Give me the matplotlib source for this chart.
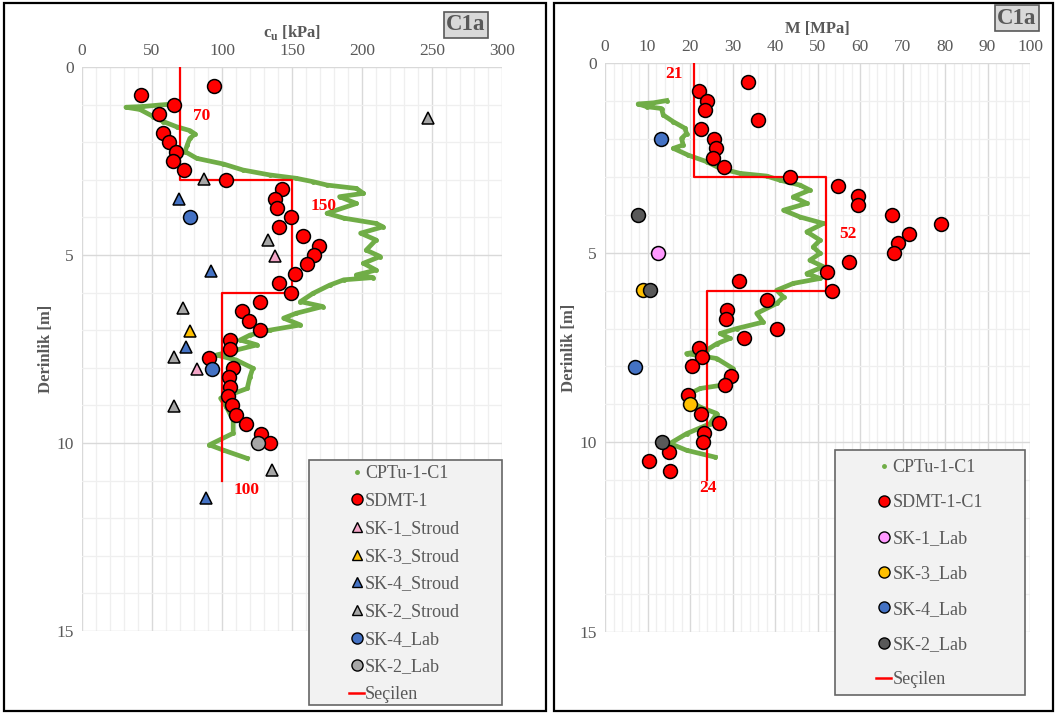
import matplotlib.pyplot as plt
from matplotlib.lines import Line2D
from matplotlib.patches import Rectangle
from matplotlib.ticker import MultipleLocator

plt.rcParams['font.family'] = ['Liberation Serif', 'DejaVu Serif']

GREY = '#595959'
GREEN = '#70AD47'

# ---- left panel: cu [kPa] ----
cptu_d = [0.98, 1.01, 1.05, 1.07, 1.13, 1.32, 1.45, 1.59, 1.69, 1.78, 1.90, 2.07, 2.25, 2.43,
          2.58, 2.74, 2.87, 2.96, 3.05, 3.14, 3.23, 3.36, 3.45, 3.63, 3.89, 4.02, 4.16, 4.25,
          4.42, 4.60, 4.87, 5.04, 5.22, 5.40, 5.53, 5.60, 5.66, 5.80, 6.02, 6.24, 6.37, 6.55,
          6.68, 6.86, 7.00, 7.13, 7.26, 7.39, 7.53, 7.66, 7.79, 8.01, 8.24, 8.55, 8.81, 9.03,
          9.39, 9.74, 10.05, 10.19, 10.41]
cptu_cu = [67.6, 55.7, 43.8, 31.4, 41.4, 51, 58, 67.6, 77, 80.7, 77, 75.2, 73.6, 82,
           101, 115, 134, 153, 165, 175, 196, 201, 184, 196, 175, 187, 210, 215,
           199, 210, 203, 213, 201, 210, 196, 208, 187, 177, 165, 156, 172, 153,
           144, 156, 134, 120, 113, 125, 110, 96, 110, 122, 120, 118, 99, 103,
           108, 108, 91, 101, 118]

sdmt_d = [0.5, 0.75, 1.0, 1.25, 1.75, 2.0, 2.25, 2.5, 2.75, 3.0, 3.25, 3.5, 3.75, 4.0, 4.25,
          4.5, 4.75, 5.0, 5.25, 5.5, 5.75, 6.0, 6.25, 6.5, 6.75, 7.0, 7.25, 7.5, 7.75, 8.0,
          8.25, 8.5, 8.75, 9.0, 9.25, 9.5, 9.75, 10.0]
sdmt_cu = [94, 42, 66, 55, 58, 62, 67, 65, 73, 103, 143, 138, 139, 149, 141,
           158, 169, 166, 161, 152, 141, 149, 127, 114, 119, 127, 106, 106, 91, 108,
           105, 106, 104, 107, 110, 117, 128, 134]

sk1_str_d, sk1_str_cu = [5.03, 8.02], [138, 82]
sk3_str_d, sk3_str_cu = [7.01], [77]
sk4_str_d, sk4_str_cu = [3.5, 5.42, 7.44, 11.45], [69, 92, 74, 88.6]
sk2_str_d, sk2_str_cu = [1.35, 2.99, 4.6, 6.42, 7.72, 9.02, 10.72], [247, 87, 133, 72, 65.5, 65.5, 136]
sk4_lab_d, sk4_lab_cu = [3.98, 8.02], [77, 92.6]
sk2_lab_d, sk2_lab_cu = [10.0], [126]

sel_cu_x = [70, 70, 150, 150, 100, 100]
sel_cu_d = [0, 3, 3, 6, 6, 11]
sel_cu_labels = [('70', 79, 1.3), ('150', 163, 3.7), ('100', 108, 11.25)]

# ---- right panel: M [MPa] ----
cptu_m_d = [0.99, 1.05, 1.08, 1.15, 1.20, 1.37, 1.55, 1.72, 1.86, 1.99, 2.16, 2.25, 2.43, 2.60,
            2.78, 2.91, 2.98, 3.09, 3.22, 3.35, 3.53, 3.70, 3.88, 4.06, 4.23, 4.45, 4.67, 4.85,
            5.02, 5.20, 5.37, 5.55, 5.68, 5.81, 5.99, 6.17, 6.34, 6.60, 6.83, 7.00, 7.13, 7.26,
            7.40, 7.57, 7.66, 7.79, 8.06, 8.50, 8.58, 8.80, 9.07, 9.24, 9.51, 9.77, 10.03,
            10.21, 10.39]
cptu_m = [14.5, 11.4, 7.8, 9.8, 13.3, 13.7, 16.1, 18.8, 19.2, 18.0, 18.4, 16.1, 19.6, 23.9,
          27.1, 31.8, 38.0, 41.2, 45.9, 48.2, 44.3, 47.5, 42.0, 45.9, 51.4, 47.5, 50.6, 49.0,
          50.6, 48.2, 51.4, 47.5, 50.6, 44.3, 40.4, 42.0, 40.4, 35.7, 37.2, 31.0, 27.1, 29.4,
          26.3, 23.9, 19.2, 26.3, 30.2, 27.1, 22.4, 18.4, 22.4, 26.3, 24.7, 19.2, 15.3,
          19.2, 25.9]

sdmt_m_d = [0.5, 0.75, 1.0, 1.25, 1.5, 1.75, 2.0, 2.25, 2.5, 2.75, 3.0, 3.25, 3.5, 3.75, 4.0,
            4.25, 4.5, 4.75, 5.0, 5.25, 5.5, 5.75, 6.0, 6.25, 6.5, 6.75, 7.0, 7.25, 7.5, 7.75,
            8.0, 8.25, 8.5, 8.75, 9.25, 9.5, 9.75, 10.0, 10.25, 10.5, 10.75]
sdmt_m = [33.7, 22.0, 23.9, 23.5, 36.1, 22.7, 25.7, 26.1, 25.3, 28.1, 43.5, 54.9, 59.5, 59.5, 67.5,
          79.0, 71.5, 69.0, 68.0, 57.3, 52.2, 31.6, 53.5, 38.0, 28.6, 28.5, 40.4, 32.7, 22.1, 22.9,
          20.5, 29.6, 28.2, 19.5, 22.6, 26.9, 23.4, 23.1, 15.1, 10.4, 15.3]

sk1_lab_m_d, sk1_lab_m = [5.0], [12.5]
sk3_lab_m_d, sk3_lab_m = [5.99, 9.0], [9.0, 20.0]
sk4_lab_m_d, sk4_lab_m = [2.0, 8.01], [13.1, 7.1]
sk2_lab_m_d, sk2_lab_m = [4.01, 5.99, 10.0], [7.8, 10.6, 13.5]

sel_m_x = [21, 21, 52, 52, 24, 24]
sel_m_d = [0, 3, 3, 6, 6, 11]
sel_m_labels = [('21', 18.3, 0.3), ('52', 55.2, 4.5), ('24', 24.3, 11.2)]

W, H = 1056, 715
fig = plt.figure(figsize=(W / 100, H / 100), dpi=100)
fig.patch.set_facecolor('white')

# panel frames
fig.patches.append(Rectangle((4 / W, 4 / H), 542 / W, 708 / H, transform=fig.transFigure,
                             fill=False, edgecolor='black', lw=1.6))
fig.patches.append(Rectangle((554 / W, 4 / H), 499 / W, 708 / H, transform=fig.transFigure,
                             fill=False, edgecolor='black', lw=1.6))

ax1 = fig.add_axes([82 / W, 1 - 631 / H, 420 / W, 564 / H])
ax2 = fig.add_axes([605 / W, 1 - 632 / H, 425 / W, 569 / H])


def style_axes(ax, xmax, xmajor, xminor, xlabel):
    ax.set_xlim(0, xmax)
    ax.set_ylim(15, 0)
    ax.xaxis.set_major_locator(MultipleLocator(xmajor))
    ax.xaxis.set_minor_locator(MultipleLocator(xminor))
    ax.yaxis.set_major_locator(MultipleLocator(5))
    ax.yaxis.set_minor_locator(MultipleLocator(1))
    ax.grid(which='major', color='#D9D9D9', lw=1.0)
    ax.grid(which='minor', color='#EFEFEF', lw=0.9)
    ax.set_axisbelow(True)
    for s in ax.spines.values():
        s.set_visible(False)
    ax.xaxis.tick_top()
    ax.xaxis.set_label_position('top')
    ax.tick_params(which='both', length=0, labelsize=12.5, labelcolor=GREY, pad=6)
    ax.set_xlabel(xlabel, fontsize=12, fontweight='bold', color=GREY, labelpad=4)
    ax.set_ylabel('Derinlik [m]', fontsize=12, fontweight='bold', color=GREY, labelpad=2)


style_axes(ax1, 300, 50, 10, r'c$_\mathregular{u}$ [kPa]')
style_axes(ax2, 100, 10, 2, 'M [MPa]')

mk = dict(markeredgecolor='black', markeredgewidth=1.1, linestyle='none')

# left panel marks
ax1.plot(cptu_cu, cptu_d, color=GREEN, lw=3.4, marker='o', ms=2.5, zorder=2)
ax1.plot(sel_cu_x, sel_cu_d, color='#FF0000', lw=1.6, zorder=3)
ax1.plot(sdmt_cu, sdmt_d, marker='o', ms=10, markerfacecolor='#FF0000', zorder=4, **mk)
ax1.plot(sk1_str_cu, sk1_str_d, marker='^', ms=9, markerfacecolor='#F4A6C8', zorder=4, **mk)
ax1.plot(sk3_str_cu, sk3_str_d, marker='^', ms=9, markerfacecolor='#FFC000', zorder=4, **mk)
ax1.plot(sk4_str_cu, sk4_str_d, marker='^', ms=9, markerfacecolor='#4472C4', zorder=4, **mk)
ax1.plot(sk2_str_cu, sk2_str_d, marker='^', ms=9, markerfacecolor='#A6A6A6', zorder=4, **mk)
ax1.plot(sk4_lab_cu, sk4_lab_d, marker='o', ms=10, markerfacecolor='#4472C4', zorder=4, **mk)
ax1.plot(sk2_lab_cu, sk2_lab_d, marker='o', ms=10, markerfacecolor='#A6A6A6', zorder=4, **mk)
for txt, x, y in sel_cu_labels:
    ax1.text(x, y, txt, color='#FF0000', fontsize=12.5, fontweight='bold', ha='left', va='center', zorder=5)

# right panel marks
ax2.plot(cptu_m, cptu_m_d, color=GREEN, lw=3.4, marker='o', ms=2.5, zorder=2)
ax2.plot(sel_m_x, sel_m_d, color='#FF0000', lw=1.6, zorder=3)
ax2.plot(sdmt_m, sdmt_m_d, marker='o', ms=10, markerfacecolor='#FF0000', zorder=4, **mk)
ax2.plot(sk1_lab_m, sk1_lab_m_d, marker='o', ms=10, markerfacecolor='#FF99FF', zorder=4, **mk)
ax2.plot(sk3_lab_m, sk3_lab_m_d, marker='o', ms=10, markerfacecolor='#FFC000', zorder=4, **mk)
ax2.plot(sk4_lab_m, sk4_lab_m_d, marker='o', ms=10, markerfacecolor='#4472C4', zorder=4, **mk)
ax2.plot(sk2_lab_m, sk2_lab_m_d, marker='o', ms=10, markerfacecolor='#595959', zorder=4, **mk)
for txt, x, y in sel_m_labels:
    ha = 'right' if txt == '21' else ('center' if txt == '24' else 'left')
    ax2.text(x, y, txt, color='#FF0000', fontsize=12.5, fontweight='bold', ha=ha, va='center', zorder=5)

# C1a tags
for xc, yc in [(466, 25), (1017, 18)]:
    fig.text(xc / W, 1 - yc / H, 'C1a', fontsize=16.5, fontweight='bold', color=GREY,
             ha='center', va='center',
             bbox=dict(boxstyle='square,pad=0.12', facecolor='#D9D9D9', edgecolor=GREY, lw=1.2))


def h(marker, color, ms):
    return Line2D([], [], marker=marker, ms=ms, markerfacecolor=color, markeredgecolor='black',
                  markeredgewidth=1.0, linestyle='none')


green_h = Line2D([], [], marker='o', ms=2.5, color=GREEN, linestyle='none')
red_h = Line2D([], [], color='#FF0000', lw=1.8)


def add_legend(ax, handles, labels, box, handle_left, top, spacing):
    x0, y0, x1, y1 = box
    ax.add_patch(Rectangle((x0 / W, 1 - y1 / H), (x1 - x0) / W, (y1 - y0) / H,
                           transform=fig.transFigure, facecolor='#F2F2F2', edgecolor='#666666',
                           lw=1.2, zorder=9, clip_on=False))
    leg = ax.legend(handles, labels, loc='upper left', bbox_to_anchor=(handle_left / W, 1 - top / H),
                    bbox_transform=fig.transFigure, fontsize=13, labelcolor=GREY, frameon=False,
                    handlelength=0.85, handletextpad=0.05, labelspacing=spacing,
                    borderpad=0, borderaxespad=0)
    leg.set_zorder(10)


add_legend(ax1,
           [green_h, h('o', '#FF0000', 8), h('^', '#F4A6C8', 7), h('^', '#FFC000', 7),
            h('^', '#4472C4', 7), h('^', '#A6A6A6', 7), h('o', '#4472C4', 8),
            h('o', '#A6A6A6', 8), red_h],
           ['CPTu-1-C1', 'SDMT-1', 'SK-1_Stroud', 'SK-3_Stroud', 'SK-4_Stroud',
            'SK-2_Stroud', 'SK-4_Lab', 'SK-2_Lab', 'Seçilen'],
           (309, 460, 502, 705), 349, 465, 0.59)

add_legend(ax2,
           [green_h, h('o', '#FF0000', 8), h('o', '#FF99FF', 8), h('o', '#FFC000', 8),
            h('o', '#4472C4', 8), h('o', '#595959', 8), red_h],
           ['CPTu-1-C1', 'SDMT-1-C1', 'SK-1_Lab', 'SK-3_Lab', 'SK-4_Lab', 'SK-2_Lab', 'Seçilen'],
           (835, 450, 1025, 695), 876, 459, 1.02)

fig.savefig('out.png', dpi=100)
